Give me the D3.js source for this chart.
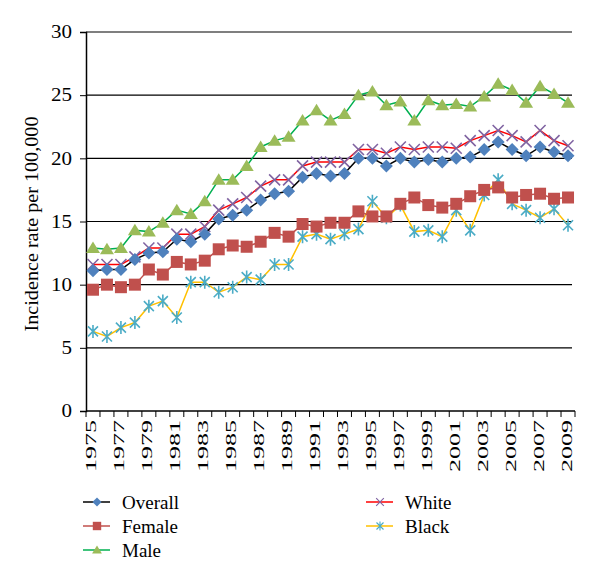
<!DOCTYPE html>
<html>
<head>
<meta charset="utf-8">
<script src="https://cdn.jsdelivr.net/npm/d3@7"></script>
<style>
  body { margin: 0; background: #fff; }
  svg text { font-family: "Liberation Serif", "DejaVu Serif", serif; }
</style>
</head>
<body>
<div id="chart"></div>
<script>
var years = d3.range(1975, 2010);
var yTicks = [0, 5, 10, 15, 20, 25, 30];

var overall = [11.1, 11.2, 11.2, 12.0, 12.5, 12.6, 13.6, 13.4, 14.0, 15.2, 15.5, 15.9, 16.7, 17.2, 17.4, 18.5, 18.8, 18.6, 18.8, 20.0, 20.0, 19.4, 20.0, 19.7, 19.9, 19.7, 20.0, 20.1, 20.7, 21.3, 20.7, 20.2, 20.9, 20.5, 20.2];
var female = [9.6, 10.0, 9.8, 10.0, 11.2, 10.8, 11.8, 11.6, 11.9, 12.8, 13.1, 13.0, 13.4, 14.1, 13.8, 14.8, 14.6, 14.9, 14.9, 15.8, 15.4, 15.4, 16.4, 16.9, 16.3, 16.1, 16.4, 17.0, 17.5, 17.7, 16.9, 17.1, 17.2, 16.8, 16.9];
var male = [12.9, 12.8, 12.9, 14.3, 14.2, 14.9, 15.9, 15.6, 16.6, 18.3, 18.3, 19.4, 20.9, 21.4, 21.7, 23.0, 23.8, 23.0, 23.5, 25.0, 25.3, 24.2, 24.5, 23.0, 24.6, 24.2, 24.3, 24.1, 24.9, 25.9, 25.4, 24.4, 25.7, 25.1, 24.4];
var white = [11.6, 11.6, 11.6, 12.2, 12.9, 12.9, 14.0, 14.0, 14.6, 15.9, 16.4, 16.9, 17.8, 18.3, 18.3, 19.4, 19.7, 19.7, 19.7, 20.7, 20.7, 20.4, 20.9, 20.7, 20.9, 20.9, 20.8, 21.4, 21.8, 22.2, 21.8, 21.3, 22.2, 21.4, 21.0];
var black = [6.3, 5.9, 6.6, 7.0, 8.3, 8.7, 7.4, 10.2, 10.2, 9.4, 9.8, 10.6, 10.4, 11.6, 11.6, 13.8, 14.0, 13.6, 14.0, 14.4, 16.6, 15.3, 16.3, 14.2, 14.3, 13.8, 15.9, 14.3, 17.1, 18.3, 16.4, 15.9, 15.3, 16.0, 14.7];

var series = [
  { name: "Overall", values: overall, line: "#000000", fill: "#4F81BD", shape: "diamond" },
  { name: "Female", values: female, line: "#C0504D", fill: "#C0504D", shape: "square" },
  { name: "Male", values: male, line: "#00B050", fill: "#9BBB59", shape: "triangle" },
  { name: "White", values: white, line: "#FF0000", fill: "#8064A2", shape: "x" },
  { name: "Black", values: black, line: "#FFC000", fill: "#4BACC6", shape: "star" }
];

var w = 600, h = 584;
var plotLeft = 86, plotRight = 575, plotTop = 32, plotBottom = 411;
var serif = "Liberation Serif";

var svg = d3.select("#chart").append("svg")
  .attr("width", w).attr("height", h);

var x = d3.scaleBand().domain(years).range([plotLeft, plotRight]);
var y = d3.scaleLinear().domain([0, 30]).range([plotBottom, plotTop]);

// gridlines
svg.append("g").selectAll("line")
  .data(yTicks.filter(function(d) { return d > 0; }))
  .enter().append("line")
  .attr("x1", plotLeft).attr("x2", plotRight - 3)
  .attr("y1", function(d) { return y(d); })
  .attr("y2", function(d) { return y(d); })
  .attr("stroke", "#000").attr("stroke-width", 1.2);

// y axis
var yAxis = svg.append("g")
  .attr("transform", "translate(" + plotLeft + ",0)")
  .call(d3.axisLeft(y).tickValues(yTicks).tickSize(6).tickPadding(8));
yAxis.attr("font-family", serif);
yAxis.select(".domain").attr("stroke-width", 1.5);
yAxis.selectAll("text")
  .attr("font-size", 18)
  .attr("fill", "#000")
  .attr("textLength", function(d) { return String(d).length * 10.5; })
  .attr("lengthAdjust", "spacingAndGlyphs");

// x axis with ticks at category boundaries
var xg = svg.append("g").attr("transform", "translate(0," + plotBottom + ")");
xg.append("line").attr("x1", plotLeft).attr("x2", plotRight).attr("stroke", "#000").attr("stroke-width", 1.5);
xg.selectAll("line.tick")
  .data(years.concat([2010]))
  .enter().append("line")
  .attr("class", "tick")
  .attr("x1", function(d, i) { return plotLeft + i * x.step(); })
  .attr("x2", function(d, i) { return plotLeft + i * x.step(); })
  .attr("y1", 0).attr("y2", 6)
  .attr("stroke", "#000");
xg.selectAll("text")
  .data(years.filter(function(d) { return (d - 1975) % 2 === 0; }))
  .enter().append("text")
  .attr("transform", function(d) {
    return "translate(" + (x(d) + x.bandwidth() / 2 + 3.5) + ",9) rotate(-90)";
  })
  .attr("text-anchor", "end")
  .attr("font-family", serif)
  .attr("font-size", 14)
  .attr("textLength", 52)
  .attr("lengthAdjust", "spacingAndGlyphs")
  .text(function(d) { return d; });

// y label
svg.append("text")
  .attr("transform", "translate(38," + 224 + ") rotate(-90)")
  .attr("text-anchor", "middle")
  .attr("font-family", serif)
  .attr("font-size", 18)
  .attr("textLength", 215)
  .attr("lengthAdjust", "spacingAndGlyphs")
  .text("Incidence rate per 100,000");

function drawMarker(g, shape, color) {
  if (shape === "diamond") {
    g.append("path").attr("d", "M0,-6.5L6.5,0L0,6.5L-6.5,0Z").attr("fill", color);
  } else if (shape === "square") {
    g.append("rect").attr("x", -6).attr("y", -6).attr("width", 12).attr("height", 12).attr("fill", color);
  } else if (shape === "triangle") {
    g.append("path").attr("d", "M0,-6.5L7,5L-7,5Z").attr("fill", color);
  } else if (shape === "x") {
    g.append("path").attr("d", "M-5.5,-5.5L5.5,5.5M-5.5,5.5L5.5,-5.5").attr("stroke", color).attr("stroke-width", 1.6);
  } else if (shape === "star") {
    g.append("path").attr("d", "M-5,-5L5,5M-5,5L5,-5M0,-6.5L0,6.5").attr("stroke", color).attr("stroke-width", 1.6);
  }
}

var line = d3.line()
  .x(function(d, i) { return x(years[i]) + x.bandwidth() / 2; })
  .y(function(d) { return y(d); });

// draw order so Overall sits on top
var order = ["Black", "Female", "Male", "White", "Overall"];
order.forEach(function(nm) {
  var s = series.find(function(d) { return d.name === nm; });
  var g = svg.append("g");
  g.append("path").datum(s.values)
    .attr("d", line).attr("fill", "none")
    .attr("stroke", s.line).attr("stroke-width", 1.5);
  g.selectAll("g.m").data(s.values).enter().append("g")
    .attr("class", "m")
    .attr("transform", function(d, i) {
      return "translate(" + (x(years[i]) + x.bandwidth() / 2) + "," + y(d) + ")";
    })
    .each(function() { drawMarker(d3.select(this), s.shape, s.fill); });
});

// legend
var legendPos = [
  { x: 83, y: 502 }, { x: 83, y: 526 }, { x: 83, y: 550 },
  { x: 366, y: 502 }, { x: 366, y: 526 }
];
series.forEach(function(s, i) {
  var p = legendPos[i];
  var g = svg.append("g").attr("transform", "translate(" + p.x + "," + p.y + ")");
  g.append("line").attr("x1", 0).attr("x2", 27).attr("stroke", s.line).attr("stroke-width", 1.5);
  var m = g.append("g").attr("transform", "translate(14,0) scale(0.7)");
  drawMarker(m, s.shape, s.fill);
  g.append("text").attr("x", 39).attr("y", 6.5)
    .attr("font-family", serif).attr("font-size", 19).text(s.name);
});
</script>
</body>
</html>
